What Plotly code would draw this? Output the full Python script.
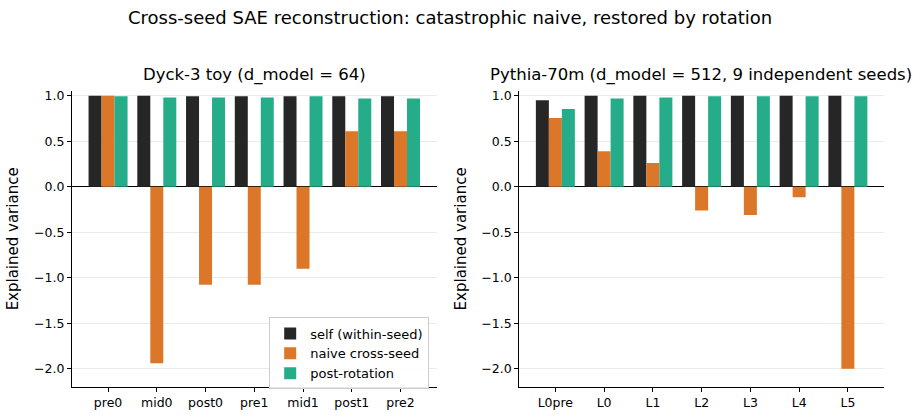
import plotly.graph_objects as go

left_cats = ["pre0", "mid0", "post0", "pre1", "mid1", "post1", "pre2"]
left_self = [1.0, 1.0, 0.995, 0.995, 0.995, 0.995, 0.995]
left_naive = [1.0, -1.94, -1.076, -1.076, -0.90, 0.61, 0.61]
left_post = [0.995, 0.98, 0.98, 0.98, 0.995, 0.97, 0.97]

right_cats = ["L0pre", "L0", "L1", "L2", "L3", "L4", "L5"]
right_self = [0.95, 1.0, 1.0, 1.0, 1.0, 1.0, 1.0]
right_naive = [0.755, 0.39, 0.26, -0.26, -0.31, -0.115, -2.0]
right_post = [0.855, 0.97, 0.98, 0.995, 0.995, 0.995, 0.995]

series_names = ["self (within-seed)", "naive cross-seed", "post-rotation"]
colors = ["#262626", "#dc7628", "#25ad89"]

FONT = "DejaVu Sans"
fig = go.Figure()
for i, (name, lv, rv) in enumerate(zip(series_names,
                                       [left_self, left_naive, left_post],
                                       [right_self, right_naive, right_post])):
    fig.add_trace(go.Bar(x=left_cats, y=lv, name=name, marker_color=colors[i],
                         marker_line_width=0, xaxis="x", yaxis="y",
                         legendgroup=name, showlegend=True))
    fig.add_trace(go.Bar(x=right_cats, y=rv, name=name, marker_color=colors[i],
                         marker_line_width=0, xaxis="x2", yaxis="y2",
                         legendgroup=name, showlegend=False))

yax = dict(range=[-2.2, 1.055], tickvals=[-2.0, -1.5, -1.0, -0.5, 0.0, 0.5, 1.0],
           tickformat=".1f", showgrid=True, gridcolor="#ebebeb", gridwidth=1,
           zeroline=True, zerolinecolor="#000000", zerolinewidth=1,
           showline=True, linecolor="#000000", linewidth=1.2,
           ticks="outside", ticklen=4, tickcolor="#000000",
           tickfont=dict(family=FONT, size=12.5, color="#000"),
           title=dict(text="Explained variance", font=dict(family=FONT, size=15, color="#000"),
                      standoff=11))
xax = dict(showline=True, linecolor="#000000", linewidth=1.2, ticks="outside",
           ticklen=4, tickcolor="#000000", showgrid=False,
           tickfont=dict(family=FONT, size=12.5, color="#000"), range=[-0.74, 6.74])

fig.update_layout(
    width=923, height=419, margin=dict(l=0, r=0, t=0, b=0),
    paper_bgcolor="white", plot_bgcolor="white",
    barmode="group", bargap=0.2, bargroupgap=0,
    font=dict(family=FONT, color="#000"),
    xaxis=dict(xax, domain=[0.078, 0.473], anchor="y"),
    yaxis=dict(yax, domain=[0.077, 0.789], anchor="x"),
    xaxis2=dict(xax, domain=[0.5626, 0.9577], anchor="y2"),
    yaxis2=dict(yax, domain=[0.077, 0.789], anchor="x2"),
    legend=dict(x=0.465, y=0.244, xanchor="right", yanchor="top",
                bgcolor="rgba(255,255,255,0.9)", bordercolor="#cccccc", borderwidth=1,
                font=dict(family=FONT, size=13), tracegroupgap=0),
    annotations=[
        dict(text="Cross-seed SAE reconstruction: catastrophic naive, restored by rotation",
             x=0.4875, y=1 - 15 / 419, xref="paper", yref="paper", showarrow=False,
             xanchor="center", yanchor="middle",
             font=dict(family=FONT, size=18)),
        dict(text="Dyck-3 toy (d_model = 64)", x=0.2755, y=1 - 73 / 419,
             xref="paper", yref="paper", xanchor="center", yanchor="middle",
             showarrow=False, font=dict(family=FONT, size=16.5)),
        dict(text="Pythia-70m (d_model = 512, 9 independent seeds)", x=0.7595, y=1 - 73 / 419,
             xref="paper", yref="paper", xanchor="center", yanchor="middle",
             showarrow=False, font=dict(family=FONT, size=16.5)),
    ],
)
fig.write_html("out.html")
